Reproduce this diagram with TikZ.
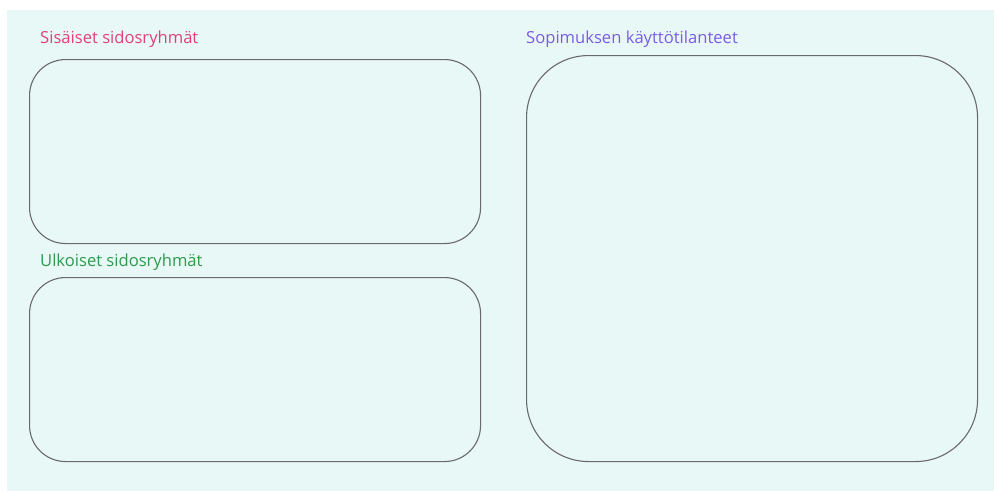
\documentclass[tikz,border=0pt]{standalone}
\usepackage{fontspec}
\setmainfont{Open Sans}
\usepackage{tikz}
\usetikzlibrary{positioning}
\definecolor{bgmint}{HTML}{E8F8F6}
\definecolor{pinklbl}{HTML}{E0407A}
\definecolor{greenlbl}{HTML}{2E9A4C}
\definecolor{purplelbl}{HTML}{7B5CE6}
\definecolor{edgegray}{HTML}{6A6A6A}

\begin{document}
\begin{tikzpicture}[
  x=1pt, y=-1pt,
  area/.style={rectangle, draw=edgegray, line width=1.1pt, inner sep=0pt, anchor=north west},
  lbl/.style={anchor=west, inner sep=0pt, font=\fontsize{16.6}{20}\selectfont}
]
\useasboundingbox (0,0) rectangle (994,491);
\fill[bgmint] (7,10) rectangle (994,491);

\node[area, rounded corners=36pt, minimum width=451pt, minimum height=184pt] (inner) at (29,59) {};
\node[area, rounded corners=36pt, minimum width=451pt, minimum height=184pt] (outer) at (29,277) {};
\node[area, rounded corners=62pt, minimum width=451pt, minimum height=406pt] (usage) at (526,55) {};

\node[lbl, text=pinklbl] (innerlbl) at (40,39) {Sisäiset sidosryhmät};
\node[lbl, text=greenlbl] (outerlbl) at (40,262) {Ulkoiset sidosryhmät};
\node[lbl, text=purplelbl] (usagelbl) at (526,39) {Sopimuksen käyttötilanteet};

\end{tikzpicture}
\end{document}
